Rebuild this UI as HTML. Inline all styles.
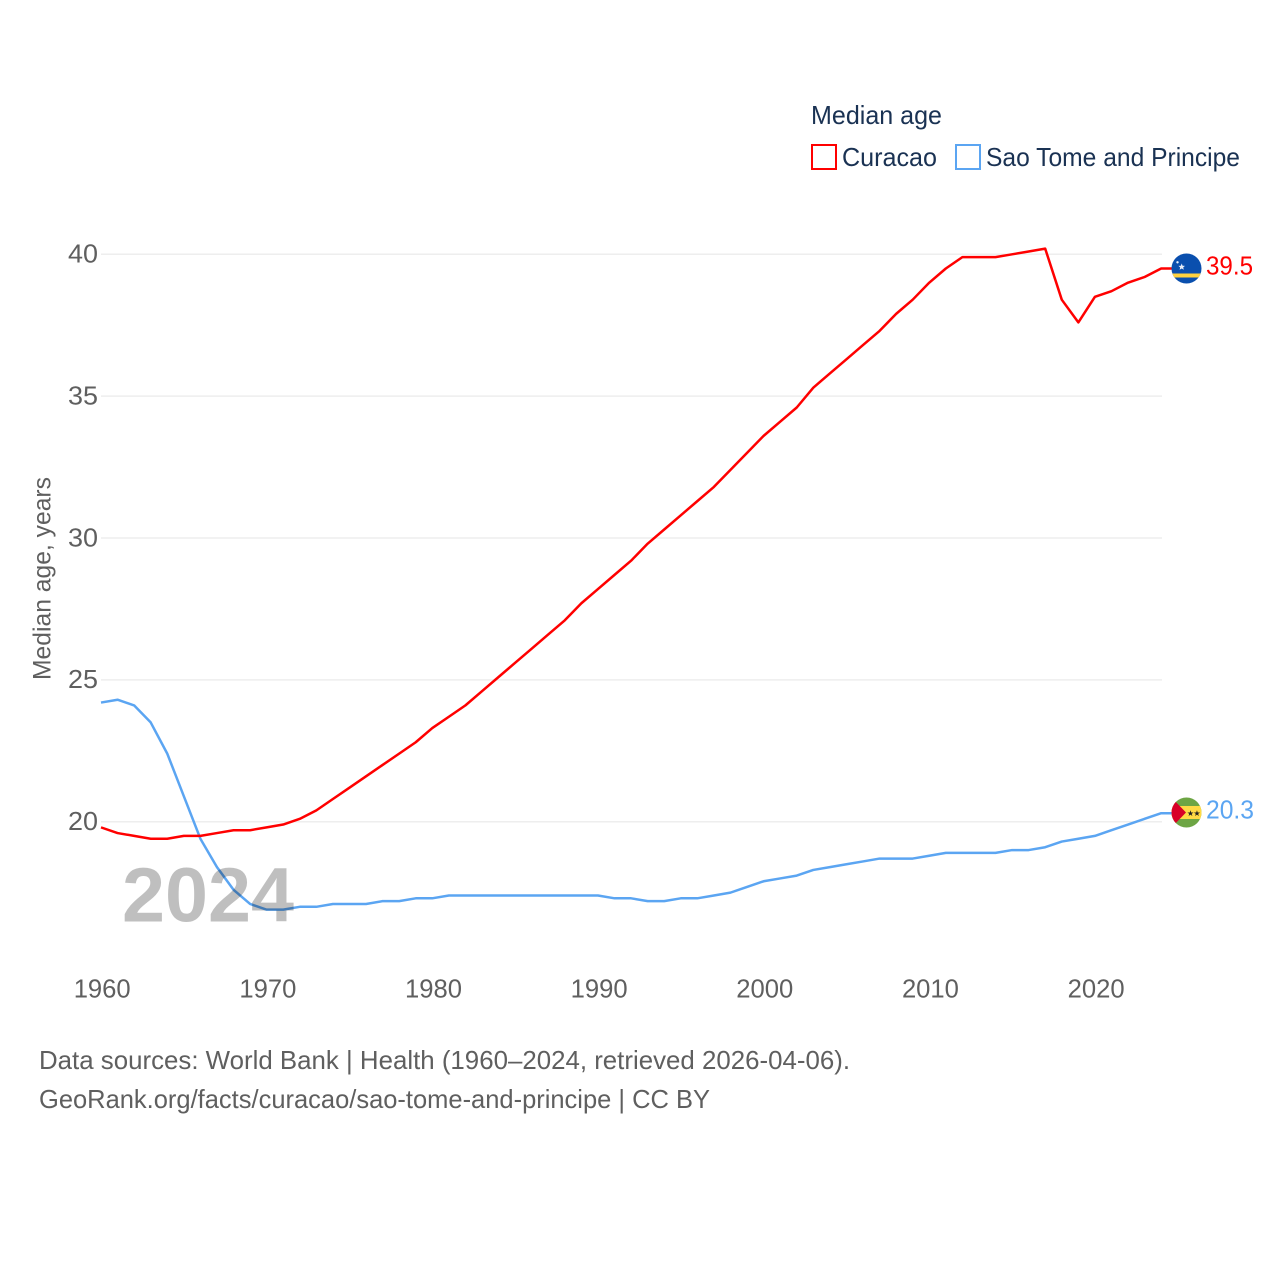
<!DOCTYPE html>
<html lang="en">
<head>
<meta charset="utf-8">
<title>Median age: Curacao vs Sao Tome and Principe</title>
<style>
html,body{margin:0;padding:0;background:#fff;}
svg{display:block;}
text{font-family:"Liberation Sans",sans-serif;}
</style>
</head>
<body>
<svg id="chart" xmlns="http://www.w3.org/2000/svg" width="1280" height="1280" viewBox="0 0 1280 1280">
  <rect x="0" y="0" width="1280" height="1280" fill="#ffffff"/>
  <g id="grid"></g>
  <g id="yticks"></g>
  <g id="xticks"></g>
  <g id="series"></g>
  <text x="122" y="921.5" font-size="77" font-weight="700" fill="#000000" fill-opacity="0.25" textLength="172" lengthAdjust="spacingAndGlyphs">2024</text>
  <text transform="translate(50.5,680) rotate(-90)" font-size="25" fill="#5f5f5f" textLength="203" lengthAdjust="spacingAndGlyphs">Median age, years</text>

  <text x="811" y="124" font-size="26" fill="#1a3253" textLength="131" lengthAdjust="spacingAndGlyphs">Median age</text>
  <g>
    <rect x="812" y="145" width="24" height="24" fill="none" stroke="#ff0000" stroke-width="2"/>
    <text x="842" y="166" font-size="26" fill="#1a3253" textLength="95" lengthAdjust="spacingAndGlyphs">Curacao</text>
  </g>
  <g>
    <rect x="956" y="145" width="24" height="24" fill="none" stroke="#5ba5f2" stroke-width="2"/>
    <text x="986" y="166" font-size="26" fill="#1a3253" textLength="254" lengthAdjust="spacingAndGlyphs">Sao Tome and Principe</text>
  </g>

  <defs>
    <clipPath id="clip-cw"><circle cx="1186.5" cy="268.5" r="15"/></clipPath>
    <clipPath id="clip-st"><circle cx="1186.5" cy="812.5" r="15"/></clipPath>
  </defs>
  <g id="flag-cw" clip-path="url(#clip-cw)">
    <rect x="1171" y="253" width="31" height="31" fill="#0a4fae"/>
    <rect x="1171" y="273.5" width="31" height="4" fill="#ffd23f"/>
    <polygon points="1181.7,263.5 1182.6,265.7 1185,265.9 1183.2,267.4 1183.8,269.8 1181.7,268.5 1179.6,269.8 1180.2,267.4 1178.4,265.9 1180.8,265.7" fill="#e8eef8"/>
    <circle cx="1177.5" cy="262.3" r="1.2" fill="#e8eef8"/>
  </g>
  <g id="flag-st" clip-path="url(#clip-st)">
    <rect x="1171" y="797" width="31" height="31" fill="#6da544"/>
    <rect x="1171" y="806" width="31" height="13" fill="#ffda44"/>
    <polygon points="1171,797 1186,812.5 1171,828" fill="#d80027"/>
    <text x="1190.5" y="816" font-size="8" text-anchor="middle" fill="#222222" font-family="DejaVu Sans, sans-serif">★</text>
    <text x="1197" y="816" font-size="8" text-anchor="middle" fill="#222222" font-family="DejaVu Sans, sans-serif">★</text>
  </g>
  <text id="val-cw" x="1206" y="274.5" font-size="26" fill="#ff0000" textLength="47" lengthAdjust="spacingAndGlyphs"></text>
  <text id="val-st" x="1206" y="818.5" font-size="26" fill="#5ba5f2" textLength="48" lengthAdjust="spacingAndGlyphs"></text>

  <text x="39" y="1069" font-size="26" fill="#5f5f5f" textLength="811" lengthAdjust="spacingAndGlyphs">Data sources: World Bank | Health (1960–2024, retrieved 2026-04-06).</text>
  <text x="39" y="1108" font-size="26" fill="#5f5f5f" textLength="671" lengthAdjust="spacingAndGlyphs">GeoRank.org/facts/curacao/sao-tome-and-principe | CC BY</text>
</svg>
<script>
var startYear = 1960;
var curacaoValues = [19.8,19.6,19.5,19.4,19.4,19.5,19.5,19.6,19.7,19.7,19.8,19.9,20.1,20.4,20.8,21.2,21.6,22.0,22.4,22.8,23.3,23.7,24.1,24.6,25.1,25.6,26.1,26.6,27.1,27.7,28.2,28.7,29.2,29.8,30.3,30.8,31.3,31.8,32.4,33.0,33.6,34.1,34.6,35.3,35.8,36.3,36.8,37.3,37.9,38.4,39.0,39.5,39.9,39.9,39.9,40.0,40.1,40.2,38.4,37.6,38.5,38.7,39.0,39.2,39.5];
var saoTomeValues = [24.2,24.3,24.1,23.5,22.4,20.9,19.4,18.4,17.6,17.1,16.9,16.9,17.0,17.0,17.1,17.1,17.1,17.2,17.2,17.3,17.3,17.4,17.4,17.4,17.4,17.4,17.4,17.4,17.4,17.4,17.4,17.3,17.3,17.2,17.2,17.3,17.3,17.4,17.5,17.7,17.9,18.0,18.1,18.3,18.4,18.5,18.6,18.7,18.7,18.7,18.8,18.9,18.9,18.9,18.9,19.0,19.0,19.1,19.3,19.4,19.5,19.7,19.9,20.1,20.3];
var yTickValues = [20,25,30,35,40];
var xTickValues = [1960,1970,1980,1990,2000,2010,2020];

var SVGNS = 'http://www.w3.org/2000/svg';
function xScale(year){ return 101 + (year - 1960) * 16.565; }
function yScale(v){ return 821.7 - (v - 20) * 28.37; }

function make(tag, attrs, parent){
  var el = document.createElementNS(SVGNS, tag);
  for (var k in attrs) el.setAttribute(k, attrs[k]);
  parent.appendChild(el);
  return el;
}

var gridG = document.getElementById('grid');
var yG = document.getElementById('yticks');
yTickValues.forEach(function(v){
  var line = make('line', {x1:101, x2:1162, y1:yScale(v), y2:yScale(v), stroke:'#eeeeee', 'stroke-width':1.5}, gridG);
  
  
  var t = make('text', {x:98, y:yScale(v)+8.3, 'text-anchor':'end', 'font-size':26, fill:'#5f5f5f', textLength:30, lengthAdjust:'spacingAndGlyphs'}, yG);
  
  
  t.textContent = v;
});

var xG = document.getElementById('xticks');
xTickValues.forEach(function(y){
  var t = make('text', {x:xScale(y)+1.2, y:997.5, 'text-anchor':'middle', 'font-size':26, fill:'#5f5f5f', textLength:57, lengthAdjust:'spacingAndGlyphs'}, xG);
  
  
  t.textContent = y;
});

function drawSeries(values, color, name){
  var pts = values.map(function(v, i){ return xScale(startYear + i).toFixed(2) + ',' + yScale(v).toFixed(2); });
  var last = values[values.length - 1];
  pts.push('1172,' + yScale(last).toFixed(2));
  var line = make('polyline', {points:pts.join(' '), fill:'none', stroke:color, 'stroke-width':2.5, 'stroke-linejoin':'round'}, document.getElementById('series'));
  
  
}
drawSeries(saoTomeValues, '#5ba5f2', 'sao-tome-line');
drawSeries(curacaoValues, '#ff0000', 'curacao-line');

document.getElementById('val-cw').textContent = curacaoValues[curacaoValues.length - 1].toFixed(1);
document.getElementById('val-st').textContent = saoTomeValues[saoTomeValues.length - 1].toFixed(1);
</script>
</body>
</html>
